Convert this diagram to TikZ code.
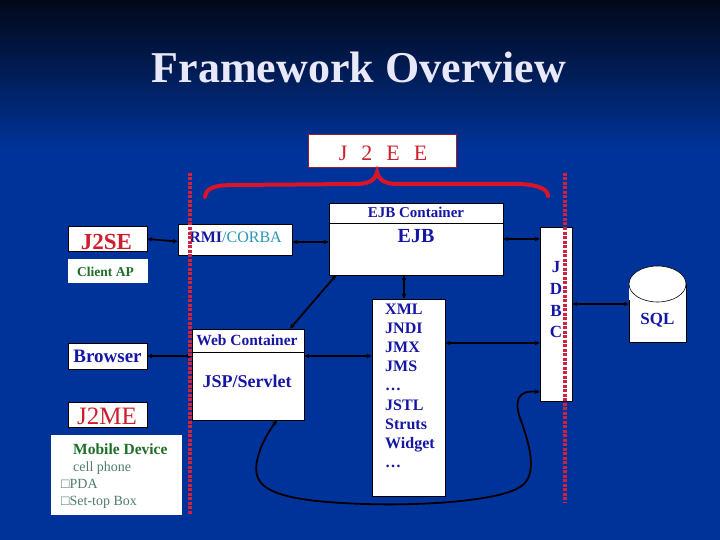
\documentclass[tikz,border=0pt]{standalone}
\usepackage{fontspec}
\setmainfont{Liberation Serif}
\usetikzlibrary{arrows.meta}
\definecolor{bg}{RGB}{0,51,153}
\definecolor{bgtop}{RGB}{2,8,24}
\definecolor{titlec}{RGB}{232,232,248}
\definecolor{jred}{RGB}{205,30,45}
\definecolor{jblue}{RGB}{22,22,165}
\definecolor{teal}{RGB}{40,150,185}
\definecolor{jgreen}{RGB}{30,110,40}
\definecolor{ggreen}{RGB}{80,125,105}
\definecolor{bracered}{RGB}{220,20,40}
\definecolor{sepred}{RGB}{205,35,65}
\definecolor{j2eeborder}{RGB}{160,25,45}
\begin{document}
\begin{tikzpicture}[x=1pt,y=-1pt,
  box/.style={draw=black,line width=0.6pt,fill=white,inner sep=0pt},
  plainbox/.style={fill=white,inner sep=0pt},
  lbl/.style={anchor=base,inner sep=0pt},
  conn/.style={line width=1.8pt,{Stealth[length=5pt,width=4.5pt]}-{Stealth[length=5pt,width=4.5pt]}},
  sepline/.style={draw=sepred,line width=3.5pt,dash pattern=on 3pt off 1.5pt},
  brace/.style={draw=bracered,line width=4pt,line cap=round}]
\useasboundingbox (0,0) rectangle (720,540);
\fill[bg] (0,0) rectangle (720,540);
\shade[top color=bgtop,bottom color=bg] (0,0) rectangle (720,150);

% title
\node[lbl,text=titlec,font=\bfseries\fontsize{44}{44}\selectfont] (title) at (359,83) {Framework Overview};

% J2EE
\node[draw=j2eeborder,fill=white,line width=1pt,inner sep=0pt,minimum width=148pt,minimum height=33pt] (j2ee) at (382,151.5) {};
\node[lbl,text=jred,font=\fontsize{22}{22}\selectfont] (j2eet) at (383,161) {J\hspace{14pt}2\hspace{14pt}E\hspace{14pt}E};
\draw[brace] (205,197) .. controls (206,188) and (214,185) .. (235,185) -- (355,184) .. controls (370,184) and (375,180) .. (377,172) .. controls (379,180) and (384,184) .. (399,184) -- (520,184) .. controls (540,185) and (548,190) .. (548,196);

% left column
\node[box,minimum width=79pt,minimum height=25pt] (j2se) at (107.5,238.5) {};
\node[lbl,text=jred,font=\bfseries\fontsize{23}{23}\selectfont] (j2set) at (106.5,249) {J2SE};
\node[plainbox,minimum width=80pt,minimum height=24pt] (clientap) at (108,271) {};
\node[lbl,text=jgreen,font=\bfseries\fontsize{13.5}{14}\selectfont] (clientapt) at (105.5,276) {Client AP};
\node[box,minimum width=79pt,minimum height=26pt] (browser) at (107.5,356) {};
\node[lbl,text=jblue,font=\bfseries\fontsize{19}{19}\selectfont] (browsert) at (107.5,362) {Browser};
\node[box,minimum width=79pt,minimum height=25pt] (j2me) at (107.5,414.5) {};
\node[lbl,text=jred,font=\fontsize{25}{25}\selectfont] (j2met) at (107,424) {J2ME};
\node[plainbox,minimum width=131pt,minimum height=80pt] (mobile) at (116.5,475) {};
\node[anchor=base west,inner sep=0pt,text=jgreen,font=\bfseries\fontsize{15.5}{16}\selectfont] (mob1) at (73,454) {Mobile Device};
\node[anchor=base west,inner sep=0pt,text=ggreen,font=\fontsize{14}{14}\selectfont] (mob2) at (73,471) {cell phone};
\node[anchor=base west,inner sep=0pt,text=ggreen,font=\fontsize{14}{14}\selectfont] (mob3) at (61,488) {□PDA};
\node[anchor=base west,inner sep=0pt,text=ggreen,font=\fontsize{14}{14}\selectfont] (mob4) at (61,505) {□Set-top Box};

% middle
\node[box,minimum width=114pt,minimum height=31pt] (rmi) at (235,239.5) {};
\node[lbl,font=\fontsize{16}{16}\selectfont] (rmit) at (235.5,242) {\textcolor{jblue}{\bfseries RMI}\textcolor{teal}{/CORBA}};
\node[box,minimum width=174pt,minimum height=72pt] (ejb) at (416,239) {};
\draw[line width=0.6pt] (ejb.west |- 0,223) -- (ejb.east |- 0,223);
\node[lbl,text=jblue,font=\bfseries\fontsize{15}{15}\selectfont] (ejbc) at (416,218) {EJB Container};
\node[lbl,text=jblue,font=\bfseries\fontsize{20}{20}\selectfont] (ejbt) at (416,243) {EJB};
\node[box,minimum width=112pt,minimum height=91pt] (web) at (248,374.5) {};
\draw[line width=0.6pt] (web.west |- 0,352) -- (web.east |- 0,352);
\node[lbl,text=jblue,font=\bfseries\fontsize{15.5}{16}\selectfont] (webc) at (247,345) {Web Container};
\node[lbl,text=jblue,font=\bfseries\fontsize{18}{18}\selectfont] (webt) at (247,387) {JSP/Servlet};
\node[box,minimum width=73pt,minimum height=197pt] (xml) at (408.5,397.5) {};
\foreach \t/\yy [count=\i] in {XML/314,JNDI/333,JMX/352,JMS/371,\dots/390,JSTL/410,Struts/429,Widget/448,\dots/467}
  \node[anchor=base west,inner sep=0pt,text=jblue,font=\bfseries\fontsize{16}{16}\selectfont] (xmlt\i) at (385,\yy) {\t};

% JDBC and SQL
\node[box,minimum width=32pt,minimum height=174pt] (jdbc) at (556,314) {};
\foreach \t/\yy [count=\i] in {J/272,D/294,B/316,C/337}
  \node[lbl,text=jblue,font=\bfseries\fontsize{17}{17}\selectfont] (jdbct\i) at (556,\yy) {\t};
\node[box,minimum width=57pt,minimum height=58pt] (sql) at (657.5,313) {};
\fill[white] (629,284) rectangle (686,300);
\draw[fill=white,line width=0.6pt] (657.5,284) ellipse [x radius=28.5pt,y radius=18pt];
\node[lbl,text=jblue,font=\bfseries\fontsize{17}{17}\selectfont] (sqlt) at (657.5,324) {SQL};

% connectors
\draw[conn] ([yshift=-0.5pt]j2se.east) -- ([yshift=-2pt]rmi.west);
\draw[conn] ([yshift=-2.5pt]rmi.east) -- ([yshift=-3pt]ejb.west);
\draw[conn] ([xshift=42pt]web.north) -- ([xshift=-80pt]ejb.south);
\draw[conn] (browser.east) -- (web.west |- browser.east);
\draw[conn] (web.east |- 0,356) -- (xml.west |- 0,356);
\draw[conn] ([xshift=-12pt]ejb.south) -- ([xshift=-4.5pt]xml.north);
\draw[conn] (ejb.east |- 0,239) -- (jdbc.west |- 0,239);
\draw[conn] (xml.east |- 0,343) -- (jdbc.west |- 0,343);
\draw[conn] (jdbc.east |- 0,304) -- (sql.west |- 0,304);
\draw[conn] ([xshift=29pt]web.south) .. controls (262,440) and (252,465) .. (258,478) .. controls (265,495) and (300,502) .. (365,504) .. controls (430,506) and (500,500) .. (520,487) .. controls (540,475) and (528,440) .. (520,418) .. controls (514,400) and (518,390) .. ([yshift=-78pt]jdbc.west);

% separators
\coordinate (s1a) at (190,173);
\coordinate (s1b) at (190,515);
\coordinate (s2a) at (565,173);
\coordinate (s2b) at (565,503);
\draw[sepline] (s1a) -- (s1b);
\draw[sepline] (s2a) -- (s2b);
\end{tikzpicture}
\end{document}
